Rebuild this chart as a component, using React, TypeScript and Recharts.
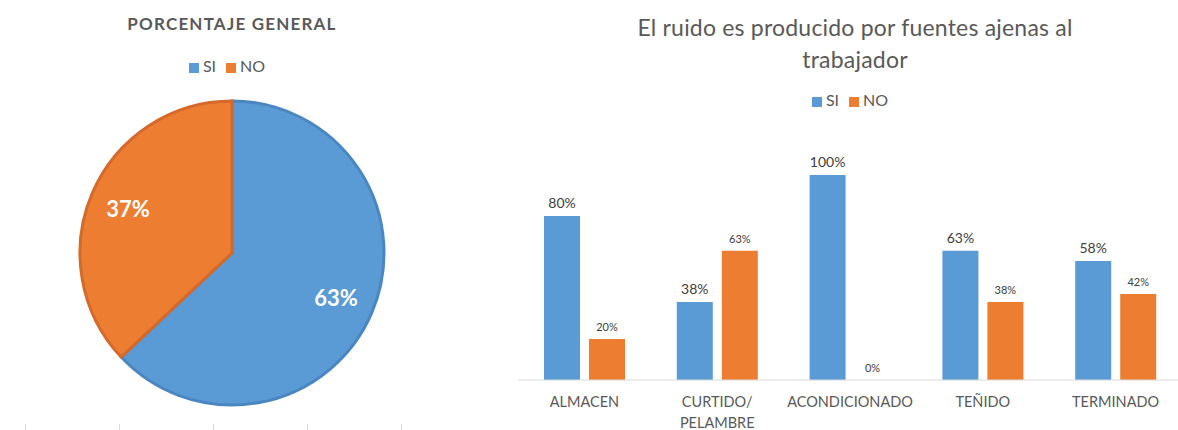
import { PieChart, Pie, Cell, Legend, BarChart, Bar, XAxis, YAxis, LabelList } from 'recharts';

const pieNames = ['SI', 'NO'];
const pieValues = [63, 37];

const categories = ['ALMACEN', 'CURTIDO/\nPELAMBRE', 'ACONDICIONADO', 'TEÑIDO', 'TERMINADO'];
const siValues = [80, 38, 100, 63, 58];
const noValues = [20, 63, 0, 38, 42];

const BLUE = '#5b9bd5';
const ORANGE = '#ed7d31';
const FONT = 'Lato, "Open Sans", sans-serif';

const pieData = pieNames.map((name, i) => ({ name, value: pieValues[i] }));
const barData = categories.map((name, i) => ({ name, SI: siValues[i], NO: noValues[i] }));

const RADIAN = Math.PI / 180;

const renderPieLabel = (props: any) => {
  const { cx, cy, midAngle, outerRadius, value } = props;
  const r = outerRadius * 0.745;
  const x = cx + r * Math.cos(-midAngle * RADIAN);
  const y = cy + r * Math.sin(-midAngle * RADIAN);
  return (
    <text x={x} y={y} fill="#fff" textAnchor="middle" dominantBaseline="central" fontSize={22} fontWeight={700} fontFamily={FONT}>
      {`${value}%`}
    </text>
  );
};

const CategoryTick = (props: any) => {
  const { x, y, payload } = props;
  const lines = String(payload.value).split('\n');
  return (
    <text x={x} y={y} textAnchor="middle" fill="#595959" fontSize={14.5} fontFamily={FONT}>
      {lines.map((line, i) => (
        <tspan key={i} x={x} dy={i === 0 ? 19 : 21}>
          {line}
        </tspan>
      ))}
    </text>
  );
};

const makeBarLabel = (size: number) => (props: any) => {
  const { x, y, width, value } = props;
  return (
    <text x={x + width / 2} y={y - 8} textAnchor="middle" fill="#404040" fontSize={size} fontFamily={FONT}>
      {`${value}%`}
    </text>
  );
};

const legendText = (value: string) => <span style={{ color: '#595959' }}>{value}</span>;
const legendOrder = (item: any) => pieNames.indexOf(item.value);

export default function App() {
  return (
    <div style={{ position: 'absolute', left: 0, top: 0, width: 1178, height: 430, overflow: 'hidden', background: '#fff', fontFamily: FONT }}>
      <div style={{ position: 'absolute', left: 0, top: 13, width: 464, textAlign: 'center', fontSize: 17, fontWeight: 700, color: '#595959', letterSpacing: 1.2 }}>
        PORCENTAJE GENERAL
      </div>
      <div style={{ position: 'absolute', left: 0, top: 0 }}>
        <PieChart width={470} height={430}>
          <Legend
            verticalAlign="middle"
            align="center"
            layout="horizontal"
            iconType="square"
            iconSize={10}
            itemSorter={legendOrder}
            formatter={legendText}
            wrapperStyle={{ top: 56, left: 0, width: 464, fontSize: 16 }}
          />
          <Pie
            data={pieData}
            dataKey="value"
            nameKey="name"
            cx={227}
            cy={248}
            outerRadius={152}
            startAngle={90}
            endAngle={-270}
            label={renderPieLabel}
            labelLine={false}
            isAnimationActive={false}
          >
            <Cell fill={BLUE} stroke="#4a86c2" strokeWidth={3} />
            <Cell fill={ORANGE} stroke="#d5692a" strokeWidth={3} />
          </Pie>
        </PieChart>
      </div>
      <div style={{ position: 'absolute', left: 18, top: 424, width: 400, height: 6 }}>
        {[0, 1, 2, 3, 4].map((i) => (
          <div key={i} style={{ position: 'absolute', left: 7 + i * 94, top: 0, width: 1, height: 6, background: '#d9d9d9' }} />
        ))}
      </div>

      <div style={{ position: 'absolute', left: 510, top: 11, width: 690, textAlign: 'center', fontSize: 23, color: '#595959', lineHeight: '32px', letterSpacing: 0.2 }}>
        El ruido es producido por fuentes ajenas al
        <br />
        trabajador
      </div>
      <div style={{ position: 'absolute', left: 510, top: 0 }}>
        <BarChart width={672} height={430} data={barData} margin={{ top: 175, right: 0, left: 8, bottom: 20 }} barSize={36} barGap={9}>
          <Legend
            verticalAlign="middle"
            align="center"
            layout="horizontal"
            iconType="square"
            iconSize={10}
            itemSorter={legendOrder}
            formatter={legendText}
            wrapperStyle={{ top: 90, left: 0, width: 690, fontSize: 16 }}
          />
          <XAxis dataKey="name" axisLine={{ stroke: '#d9d9d9' }} tickLine={false} height={30} interval={0} tick={<CategoryTick />} />
          <YAxis hide domain={[0, 100]} />
          <Bar dataKey="SI" fill={BLUE} isAnimationActive={false}>
            <LabelList dataKey="SI" content={makeBarLabel(14)} />
          </Bar>
          {/* tiny minPointSize keeps the zero bar (and its 0% label) in the render list */}
          <Bar dataKey="NO" fill={ORANGE} minPointSize={0.01} isAnimationActive={false}>
            <LabelList dataKey="NO" content={makeBarLabel(11)} />
          </Bar>
        </BarChart>
      </div>
    </div>
  );
}
